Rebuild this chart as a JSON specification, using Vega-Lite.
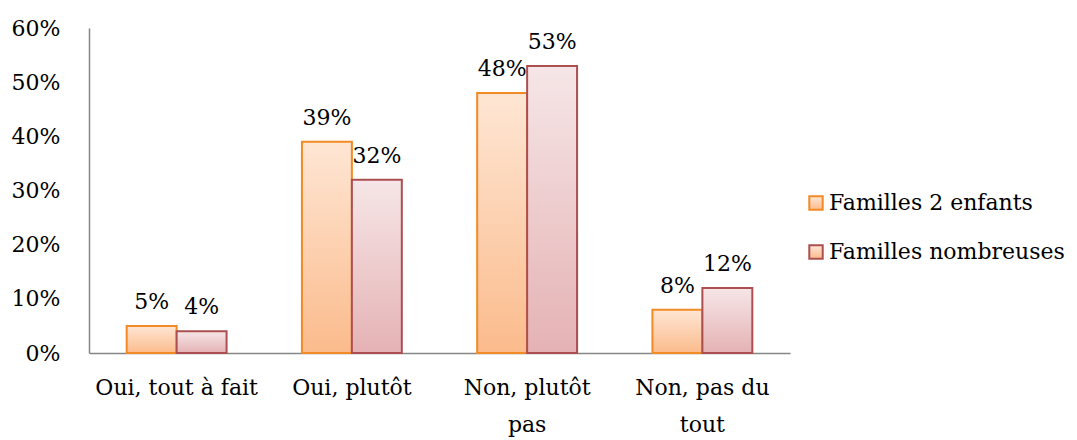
{
  "$schema": "https://vega.github.io/schema/vega-lite/v6.json",
  "width": 701,
  "height": 325,
  "autosize": {"type": "none"},
  "padding": {"left": 89, "top": 28, "right": 287, "bottom": 87},
  "background": "white",
  "config": {
    "view": {"stroke": null},
    "font": "DejaVu Serif, serif",
    "text": {"font": "DejaVu Serif, serif"}
  },
  "data": {
    "values": [
      {"cat": "Oui, tout à fait", "serie": "Familles 2 enfants", "v": 0.05},
      {"cat": "Oui, tout à fait", "serie": "Familles nombreuses", "v": 0.04},
      {"cat": "Oui, plutôt", "serie": "Familles 2 enfants", "v": 0.39},
      {"cat": "Oui, plutôt", "serie": "Familles nombreuses", "v": 0.32},
      {"cat": "Non, plutôt pas", "serie": "Familles 2 enfants", "v": 0.48},
      {"cat": "Non, plutôt pas", "serie": "Familles nombreuses", "v": 0.53},
      {"cat": "Non, pas du tout", "serie": "Familles 2 enfants", "v": 0.08},
      {"cat": "Non, pas du tout", "serie": "Familles nombreuses", "v": 0.12}
    ]
  },
  "encoding": {
    "x": {
      "field": "cat",
      "type": "nominal",
      "sort": null,
      "scale": {"paddingInner": 0.43, "paddingOuter": 0.215},
      "axis": {
        "title": null,
        "labelAngle": 0,
        "labelFont": "DejaVu Serif, serif",
        "labelFontSize": 22,
        "labelColor": "#000000",
        "labelPadding": 24,
        "labelLineHeight": 37,
        "labelBaseline": "top",
        "labelLimit": 300,
        "ticks": false,
        "domainColor": "#868686",
        "domainWidth": 1.5,
        "labelExpr": "datum.label == 'Non, plutôt pas' ? ['Non, plutôt', 'pas'] : datum.label == 'Non, pas du tout' ? ['Non, pas du', 'tout'] : datum.label"
      }
    },
    "xOffset": {"field": "serie", "type": "nominal", "sort": null, "scale": {"domain": ["Familles 2 enfants", "Familles nombreuses"]}},
    "y": {
      "field": "v",
      "type": "quantitative",
      "scale": {"domain": [0, 0.6], "nice": false},
      "axis": {
        "title": null,
        "format": ".0%",
        "values": [0, 0.1, 0.2, 0.3, 0.4, 0.5, 0.6],
        "grid": false,
        "ticks": false,
        "labelFont": "DejaVu Serif, serif",
        "labelFontSize": 22,
        "labelColor": "#000000",
        "labelPadding": 29,
        "domainColor": "#868686",
        "domainWidth": 1.5
      }
    },
    "stroke": {
      "field": "serie",
      "type": "nominal",
      "sort": null,
      "scale": {
        "domain": ["Familles 2 enfants", "Familles nombreuses"],
        "range": ["#f28a26", "#ac4f51"]
      },
      "legend": {
        "title": null,
        "orient": "none",
        "legendX": 716,
        "legendY": 164,
        "symbolType": "square",
        "symbolSize": 180,
        "symbolStrokeWidth": 2,
        "labelFontSize": 22,
        "labelColor": "#000000",
        "labelFont": "DejaVu Serif, serif",
        "labelLimit": 400,
        "rowPadding": 27,
        "labelOffset": 2,
        "encode": {
          "symbols": {
            "update": {
              "fill": {"signal": "datum.value == 'Familles 2 enfants' ? {gradient: 'linear', x1: 0, y1: 0, x2: 0, y2: 1, stops: [{offset: 0, color: '#fee6d4'}, {offset: 1, color: '#fbbb8c'}]} : {gradient: 'linear', x1: 0, y1: 0, x2: 0, y2: 1, stops: [{offset: 0, color: '#f6e6e7'}, {offset: 1, color: '#e5b2b4'}]}"},
              "fillOpacity": {"value": 1}
            }
          }
        }
      }
    }
  },
  "layer": [
    {
      "transform": [{"filter": "datum.serie == 'Familles 2 enfants'"}],
      "mark": {
        "type": "bar",
        "strokeWidth": 2,
        "fill": {"gradient": "linear", "x1": 0, "y1": 0, "x2": 0, "y2": 1, "stops": [{"offset": 0, "color": "#fee6d4"}, {"offset": 1, "color": "#fbbb8c"}]}
      }
    },
    {
      "transform": [{"filter": "datum.serie == 'Familles nombreuses'"}],
      "mark": {
        "type": "bar",
        "strokeWidth": 2,
        "fill": {"gradient": "linear", "x1": 0, "y1": 0, "x2": 0, "y2": 1, "stops": [{"offset": 0, "color": "#f6e6e7"}, {"offset": 1, "color": "#e5b2b4"}]}
      }
    },
    {
      "mark": {"type": "text", "dy": -24, "fontSize": 22, "font": "DejaVu Serif, serif", "color": "#000000"},
      "encoding": {
        "text": {"field": "v", "type": "quantitative", "format": ".0%"},
        "stroke": {"value": null}
      }
    }
  ]
}
